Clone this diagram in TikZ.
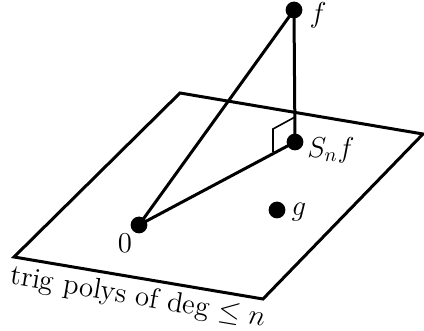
\documentclass[tikz,border=0pt]{standalone}
\begin{document}
\begin{tikzpicture}[x=0.5pt,y=-0.5pt,
  edge/.style={line width=1.5pt,line join=miter},
  dot/.style={circle,fill=black,inner sep=0pt,minimum size=8.4pt},
  lbl/.style={font=\Large,inner sep=0pt},
  marker/.style={line width=0.8pt}]
\useasboundingbox (0,0) rectangle (424,331);
% plane
\coordinate (p1) at (14,257);
\coordinate (p2) at (180,93);
\coordinate (p3) at (423,134);
\coordinate (p4) at (263,299);
\draw[edge] (p1) -- (p2) -- (p3) -- (p4) -- cycle;
% points
\node[dot] (f) at (294,10) {};
\node[dot] (s) at (295,142) {};
\node[dot] (z) at (139,225) {};
\node[dot] (g) at (277,210) {};
% right angle marker
\coordinate (m1) at (273,152);
\coordinate (m2) at (273,129);
\coordinate (m3) at (295,117);
\draw[marker] (m1) -- (m2) -- (m3);
% connectors
\draw[edge] (z.center) -- (f.center);
\draw[edge] (f.center) -- (s.center);
\draw[edge] (z.center) -- (s.center);
% labels
\node[lbl] (lf) at (318,15) {$f$};
\node[lbl] (ls) at (331,150) {$S_nf$};
\node[lbl] (lz) at (125,243) {$0$};
\node[lbl] (lg) at (299,212) {$g$};
\node[lbl,rotate=-9.6] (lp) at (138,298) {trig polys of deg $\leq n$};
\end{tikzpicture}
\end{document}
